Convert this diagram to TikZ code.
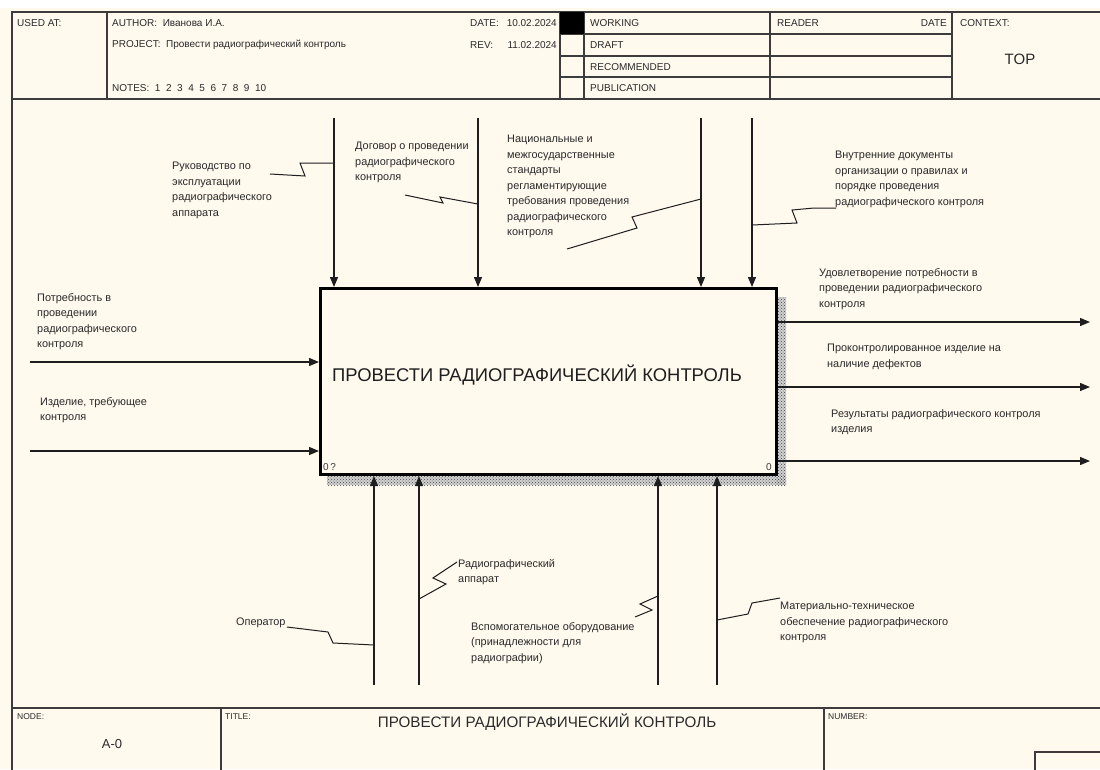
\documentclass[tikz,border=0pt]{standalone}
\usepackage{fontspec}
\setmainfont{Liberation Sans}
\usetikzlibrary{arrows.meta,patterns,calc}
\definecolor{bg}{HTML}{FFF9EE}
\definecolor{ink}{HTML}{1E1E1E}
\definecolor{txt}{HTML}{2A2A2A}
\definecolor{frame}{HTML}{3C3C3C}
\begin{document}
\begin{tikzpicture}[x=1pt,y=-1pt,
  lbl/.style={font=\fontsize{10.9}{15.5}\selectfont, align=left, inner sep=0pt, anchor=north west, text=txt, execute at begin node={\rule{0pt}{8pt}}},
  hdr/.style={font=\fontsize{10}{12}\selectfont, inner sep=0pt, anchor=west, text=txt},
  small/.style={font=\fontsize{8.5}{10}\selectfont, inner sep=0pt, anchor=west, text=txt},
  flow/.style={line width=1.3pt, draw=ink, -{Triangle[length=10pt,width=8pt]}},
  sq/.style={line width=1pt, draw=ink},
  frm/.style={line width=1.5pt, draw=frame},
  shadowbase/.style={fill=gray!35},
  shadow/.style={pattern=crosshatch dots, pattern color=black!75}]
\useasboundingbox (0,0) rectangle (1100,769);
\fill[bg] (0,0) rectangle (1100,769);
\fill[white] (0,0) rectangle (1100,8);

% ---------- header ----------
\draw[frm] (1102,12) -- (12,12) -- (12,772);
\draw[frm] (12,99) -- (1102,99);
\draw[frm] (107,12) -- (107,99);
\draw[frm] (560,12) -- (560,99);
\draw[frm] (584,12) -- (584,99);
\draw[frm] (770,12) -- (770,99);
\draw[frm] (952,12) -- (952,99);
\foreach \yy in {34,56,77} \draw[frm] (560,\yy) -- (952,\yy);
\fill[black] (560,12) rectangle (584,34);

\node[hdr] (usedat) at (17,23) {USED AT:};
\node[hdr] (author) at (112,23) {AUTHOR:\ \ Иванова И.А.};
\node[hdr] (project) at (112,45) {PROJECT:\ \ Провести радиографический контроль};
\node[hdr] (notes) at (112,88) {NOTES:\ \ 1\ \ 2\ \ 3\ \ 4\ \ 5\ \ 6\ \ 7\ \ 8\ \ 9\ \ 10};
\node[hdr] (datek) at (470,23) {DATE:};
\node[hdr, anchor=east] (datev) at (557,23) {10.02.2024};
\node[hdr] (revk) at (470,45) {REV:};
\node[hdr, anchor=east] (revv) at (557,45) {11.02.2024};
\node[hdr] (working) at (590,23) {WORKING};
\node[hdr] (draft) at (590,45) {DRAFT};
\node[hdr] (recom) at (590,67) {RECOMMENDED};
\node[hdr] (publ) at (590,88) {PUBLICATION};
\node[hdr] (reader) at (777,23) {READER};
\node[hdr, anchor=east] (rdate) at (947,23) {DATE};
\node[hdr] (context) at (960,23) {CONTEXT:};
\node[font=\fontsize{15}{17}\selectfont, text=txt, inner sep=0pt] (top) at (1020,59) {TOP};

% ---------- footer ----------
\draw[frm] (12,708) -- (1102,708);
\draw[frm] (221,708) -- (221,772);
\draw[frm] (824,708) -- (824,772);
\draw[frm] (1035,780) -- (1035,752) -- (1110,752);
\node[small] (nodek) at (17,717) {NODE:};
\node[font=\fontsize{13}{15}\selectfont, text=txt, inner sep=0pt] (nodev) at (112,744) {A-0};
\node[small] (titlek) at (225,717) {TITLE:};
\node[font=\fontsize{15.2}{17}\selectfont, text=txt, inner sep=0pt] (titlev) at (547,722) {ПРОВЕСТИ РАДИОГРАФИЧЕСКИЙ КОНТРОЛЬ};
\node[small] (numberk) at (828,717) {NUMBER:};

% ---------- activity box ----------
\fill[shadowbase] (776,297) rectangle (786,485);
\fill[shadowbase] (327,475) rectangle (786,485);
\fill[shadow] (776,297) rectangle (786,485);
\fill[shadow] (327,475) rectangle (786,485);
\node[draw=black, line width=3pt, fill=bg, minimum width=456pt, minimum height=186pt, inner sep=0pt, anchor=north west] (proc) at (319,287) {};
\node[font=\fontsize{18.4}{20}\selectfont, text=ink, inner sep=0pt] (proctitle) at (537,375) {ПРОВЕСТИ РАДИОГРАФИЧЕСКИЙ КОНТРОЛЬ};
\node[font=\fontsize{10}{12}\selectfont, text=frame, inner sep=0pt, anchor=west] (pnum) at (323,467) {0\,?};
\node[font=\fontsize{10}{12}\selectfont, text=frame, inner sep=0pt, anchor=east] (pcost) at (772,467) {0};

% ---------- inputs ----------
\coordinate (i1) at (30,362);
\coordinate (i2) at (30,451);
\draw[flow] (i1) -- (i1 -| proc.west);
\draw[flow] (i2) -- (i2 -| proc.west);
\node[lbl] (li1) at (37,293) {Потребность в\\проведении\\радиографического\\контроля};
\node[lbl] (li2) at (40,397) {Изделие, требующее\\контроля};

% ---------- controls ----------
\coordinate (c1) at (334,118);
\coordinate (c2) at (478,118);
\coordinate (c3) at (701,118);
\coordinate (c4) at (752,118);
\foreach \c in {c1,c2,c3,c4} \draw[flow] (\c) -- (\c |- proc.north);
\node[lbl] (lc1) at (172,162) {Руководство по\\эксплуатации\\радиографического\\аппарата};
\node[lbl] (lc2) at (355,142) {Договор о проведении\\радиографического\\контроля};
\node[lbl] (lc3) at (507,135) {Национальные и\\межгосударственные\\стандарты\\регламентирующие\\требования проведения\\радиографического\\контроля};
\node[lbl] (lc4) at (835,151) {Внутренние документы\\организации о правилах и\\порядке проведения\\радиографического контроля};
\coordinate (sc1) at (334,163);
\coordinate (sc2) at (478,204);
\coordinate (sc3) at (701,199);
\coordinate (sc4) at (752,225);
\draw[sq] (270,174) -- (305,176) -- (300,163) -- (sc1);
\draw[sq] (405,195) -- (443,203) -- (440,197) -- (sc2);
\draw[sq] (567,249) -- (637,228) -- (632,217) -- (sc3);
\draw[sq] (836,208) -- (814,208) -- (792,210) -- (797,223) -- (sc4);

% ---------- outputs ----------
\coordinate (o1) at (1090,322);
\coordinate (o2) at (1090,387);
\coordinate (o3) at (1090,461);
\foreach \o in {o1,o2,o3} \draw[flow] (\o -| proc.east) -- (\o);
\node[lbl] (lo1) at (819,268) {Удовлетворение потребности в\\проведении радиографического\\контроля};
\node[lbl] (lo2) at (827,344) {Проконтролированное изделие на\\наличие дефектов};
\node[lbl] (lo3) at (831,409) {Результаты радиографического контроля\\изделия};

% ---------- mechanisms ----------
\coordinate (m1) at (374,685);
\coordinate (m2) at (419,685);
\coordinate (m3) at (658,685);
\coordinate (m4) at (717,685);
\foreach \m in {m1,m2,m3,m4} \draw[flow] (\m) -- (\m |- proc.south);
\node[lbl] (lm1) at (236,617) {Оператор};
\node[lbl] (lm2) at (458,559) {Радиографический\\аппарат};
\node[lbl] (lm3) at (471,622) {Вспомогательное оборудование\\(принадлежности для\\радиографии)};
\node[lbl] (lm4) at (780,602) {Материально-техническое\\обеспечение радиографического\\контроля};
\coordinate (sm1) at (374,645);
\coordinate (sm2) at (419,599);
\coordinate (sm3) at (658,596);
\coordinate (sm4) at (717,620);
\draw[sq] (287,627) -- (328,632) -- (333,643) -- (sm1);
\draw[sq] (457,562) -- (433,578) -- (446,584) -- (sm2);
\draw[sq] (635,617) -- (652,610) -- (640,604) -- (sm3);
\draw[sq] (780,598) -- (752,603) -- (748,614) -- (sm4);
\end{tikzpicture}
\end{document}
